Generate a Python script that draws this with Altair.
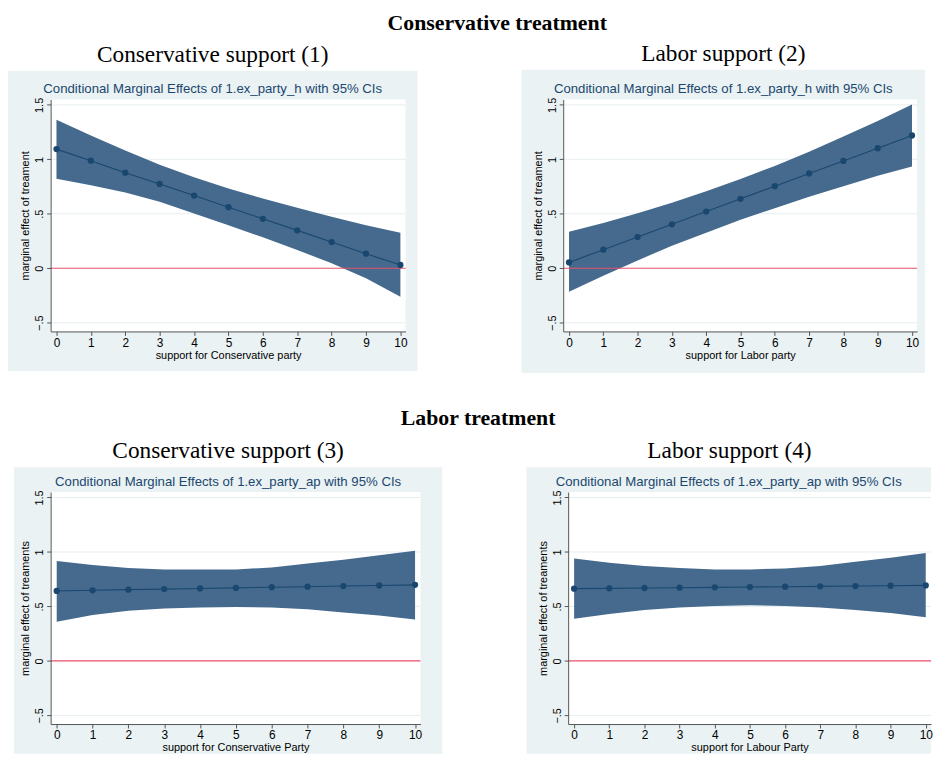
import altair as alt
import pandas as pd

x_vals = list(range(11))

# Panel 1: Conservative treatment, Conservative support
p1_est = [1.094, 0.988, 0.878, 0.774, 0.668, 0.561, 0.454, 0.348, 0.241, 0.134, 0.030]
p1_hi = [1.363, 1.220, 1.082, 0.951, 0.835, 0.732, 0.640, 0.555, 0.473, 0.396, 0.326]
p1_lo = [0.823, 0.762, 0.695, 0.610, 0.503, 0.396, 0.284, 0.168, 0.046, -0.091, -0.262]

# Panel 2: Conservative treatment, Labor support
p2_est = [0.054, 0.171, 0.287, 0.404, 0.521, 0.638, 0.754, 0.871, 0.985, 1.102, 1.219]
p2_hi = [0.335, 0.416, 0.506, 0.602, 0.707, 0.820, 0.940, 1.069, 1.210, 1.353, 1.503]
p2_lo = [-0.216, -0.069, 0.072, 0.207, 0.326, 0.446, 0.551, 0.656, 0.754, 0.850, 0.934]

# Panel 3: Labor treatment, Conservative support
p3_est = [0.642, 0.648, 0.654, 0.659, 0.665, 0.670, 0.676, 0.681, 0.687, 0.692, 0.698]
p3_hi = [0.917, 0.881, 0.852, 0.838, 0.838, 0.840, 0.858, 0.893, 0.928, 0.970, 1.011]
p3_lo = [0.360, 0.421, 0.460, 0.480, 0.489, 0.495, 0.489, 0.475, 0.445, 0.416, 0.380]

# Panel 4: Labor treatment, Labor support
p4_est = [0.663, 0.666, 0.669, 0.672, 0.675, 0.678, 0.681, 0.684, 0.687, 0.690, 0.693]
p4_hi = [0.940, 0.902, 0.872, 0.852, 0.840, 0.840, 0.849, 0.872, 0.911, 0.946, 0.990]
p4_lo = [0.386, 0.430, 0.466, 0.489, 0.504, 0.510, 0.504, 0.489, 0.466, 0.439, 0.401]

y_ticks = [-0.5, 0, 0.5, 1, 1.5]
grid_vals = [-0.5, 0.5, 1, 1.5]

SANS = "Liberation Sans"
SERIF = "Liberation Serif"
NAVY = "#1a476f"
BAND = "#456a8e"
BG = "#eaf2f3"


def panel(est, lo, hi, inner_title, xtitle, ytitle, head, W, H, left, right, top, bottom, head_offset):
    df = pd.DataFrame({"x": x_vals, "est": est, "lo": lo, "hi": hi})
    xs = alt.Scale(domain=[-0.17, 10.15], nice=False, zero=False)
    ys = alt.Scale(domain=[-0.58, 1.55], nice=False, zero=False)
    one = pd.DataFrame({"t": [inner_title]})
    xaxis = alt.Axis(values=x_vals, labelAngle=0, tickSize=4, labelPadding=2,
                     labelFontSize=12, titleFontSize=11, titlePadding=1,
                     labelOverlap=False, zindex=1, grid=False)
    yaxis = alt.Axis(values=y_ticks, labelAngle=-90, labelAlign="center",
                     labelBaseline="bottom", tickSize=4, labelPadding=2,
                     labelFontSize=11, titleFontSize=11, titlePadding=3,
                     labelExpr="replace(format(datum.value, '~g'), '0.', '.')",
                     labelOverlap=False, zindex=1, grid=False)

    bg = alt.Chart(one).mark_rect(color=BG).encode(
        x=alt.value(-left), x2=alt.value(W + right),
        y=alt.value(-top), y2=alt.value(H + bottom))
    plotbg = alt.Chart(one).mark_rect(color="white").encode(
        x=alt.value(0), x2=alt.value(W), y=alt.value(0), y2=alt.value(H))
    grid = alt.Chart(pd.DataFrame({"g": grid_vals})).mark_rule(
        color="#e6eef0", strokeWidth=1).encode(
        y=alt.Y("g:Q", scale=ys, title=ytitle, axis=yaxis))
    band = alt.Chart(df).mark_area(color=BAND, opacity=1).encode(
        x=alt.X("x:Q", scale=xs, title=xtitle, axis=xaxis),
        y=alt.Y("lo:Q", scale=ys, title=ytitle, axis=yaxis),
        y2="hi:Q")
    zero = alt.Chart(pd.DataFrame({"z": [0]})).mark_rule(
        color="#e8506a", strokeWidth=1.2).encode(
        y=alt.Y("z:Q", scale=ys, title=ytitle, axis=yaxis))
    line = alt.Chart(df).mark_line(
        color=NAVY, strokeWidth=1.1,
        point=alt.OverlayMarkDef(filled=True, size=40, color=NAVY, opacity=1)).encode(
        x=alt.X("x:Q", scale=xs, title=xtitle, axis=xaxis),
        y=alt.Y("est:Q", scale=ys, title=ytitle, axis=yaxis))
    ttl = alt.Chart(one).mark_text(font=SANS, fontSize=13.3, color=NAVY).encode(
        text="t:N", x=alt.value((W + right - left) / 2), y=alt.value(-10))
    return alt.layer(bg, plotbg, grid, band, zero, line, ttl).properties(
        width=W, height=H,
        title=alt.TitleParams(head, font=SERIF, fontSize=23.5, fontWeight="normal",
                              color="black", offset=head_offset, anchor="middle", frame="bounds"))


p1 = panel(p1_est, p1_lo, p1_hi, "Conditional Marginal Effects of 1.ex_party_h with 95% CIs",
           "support for Conservative party", "marginal effect of treament",
           "Conservative support (1)", 358, 234, 43, 12, 29, 40, 4)
p2 = panel(p2_est, p2_lo, p2_hi, "Conditional Marginal Effects of 1.ex_party_h with 95% CIs",
           "support for Labor party", "marginal effect of treament",
           "Labor support (2)", 357, 234, 42, 8, 30, 42, 4)
p3 = panel(p3_est, p3_lo, p3_hi, "Conditional Marginal Effects of 1.ex_party_ap with 95% CIs",
           "support for Conservative Party", "marginal effect of treaments",
           "Conservative support (3)", 373, 234, 37, 22, 25, 30, 5)
p4 = panel(p4_est, p4_lo, p4_hi, "Conditional Marginal Effects of 1.ex_party_ap with 95% CIs",
           "support for Labour Party", "marginal effect of treaments",
           "Labor support (4)", 366, 234, 42, 0, 25, 30, 5)

row1 = alt.hconcat(p1, p2, spacing=105).properties(
    title=alt.TitleParams("Conservative treatment", font=SERIF, fontSize=22, fontWeight="bold",
                          color="black", anchor="middle", offset=8, dx=31))
row2 = alt.hconcat(p3, p4, spacing=85).properties(
    title=alt.TitleParams("Labor treatment", font=SERIF, fontSize=22, fontWeight="bold",
                          color="black", anchor="middle", offset=9, dx=5))

chart = alt.vconcat(row1, row2, spacing=34).properties(
    padding={"left": 0, "top": 0, "right": 0, "bottom": 0},
    background="white"
).configure_view(stroke=None).configure_axis(
    labelFont=SANS, titleFont=SANS, labelColor="black", titleColor="black",
    domainColor="#555555", tickColor="#555555", titleFontWeight="normal"
)

chart.save("out.html", embed_options={"renderer": "svg", "actions": False})
